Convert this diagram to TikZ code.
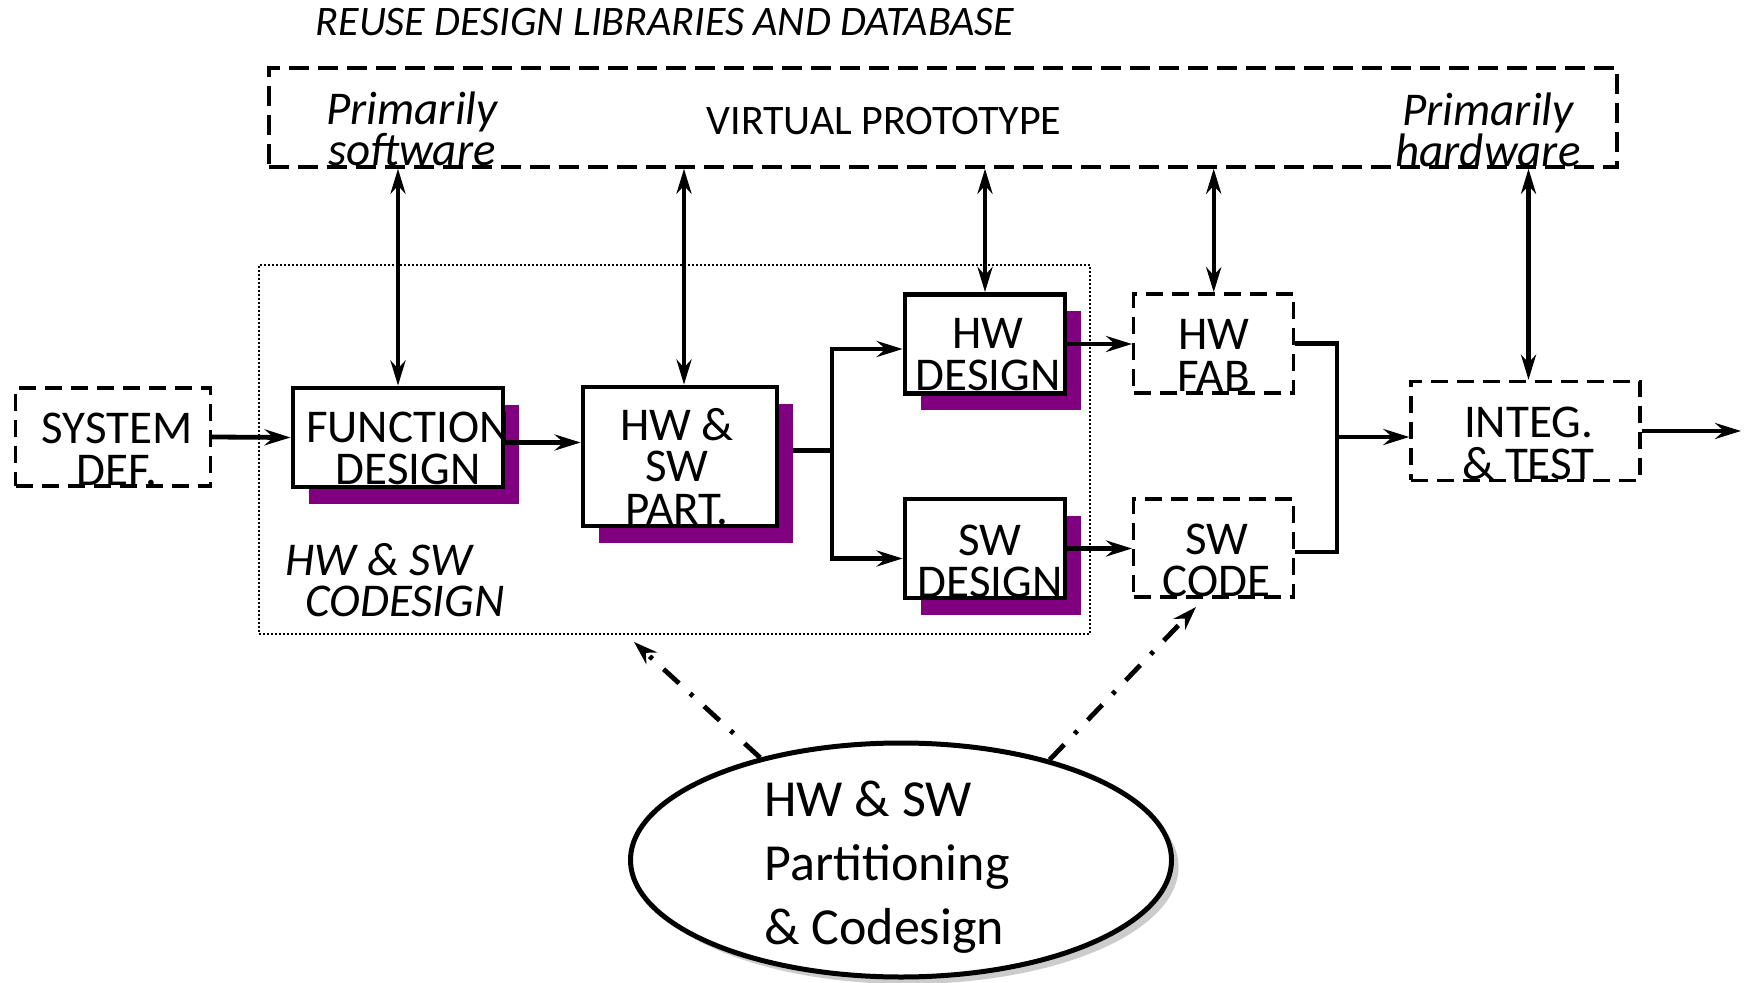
\documentclass[tikz,border=0pt]{standalone}
\usepackage{fontspec}
\setmainfont{Carlito}
\usetikzlibrary{arrows.meta,calc,shapes.geometric,backgrounds}
\definecolor{shadowpurple}{HTML}{800080}
\begin{document}
\begin{tikzpicture}[x=0.5pt,y=-0.5pt,
  stage/.style={draw, line width=2.4pt, fill=white, inner sep=0pt},
  extstage/.style={draw, line width=1.7pt, dash pattern=on 8.5pt off 4.5pt, fill=white, inner sep=0pt},
  shade/.style={fill=shadowpurple, draw=none, inner sep=0pt},
  lbl/.style={font=\fontsize{23.5}{21}\selectfont, align=center, inner sep=0pt, text depth=0pt, anchor=south},
  ital/.style={font=\fontsize{23.5}{20.5}\selectfont\itshape, align=center, inner sep=0pt, text depth=0pt, anchor=south},
  flow/.style={line width=2.4pt},
  arr/.style={flow, -{Stealth[length=13pt,width=8pt,inset=4.5pt]}},
  biarr/.style={line width=2.2pt, {Stealth[length=12.5pt,width=7.5pt,inset=4pt]}-{Stealth[length=12.5pt,width=7.5pt,inset=4pt]}},
  hint/.style={line width=2.4pt, dash pattern=on 10.5pt off 7.5pt on 2pt off 7.5pt, -{Stealth[length=12pt,width=8pt,inset=4pt]}}
]
\useasboundingbox (0,0) rectangle (1744,983);

% outer frames
\node[draw, line width=1.7pt, dash pattern=on 10pt off 4.5pt, inner sep=0pt,
      minimum width=674pt, minimum height=49.5pt] (vp) at (943,117.5) {};
\node[draw, line width=1.4pt, dash pattern=on 1pt off 1pt, inner sep=0pt,
      minimum width=415.5pt, minimum height=184.5pt] (cd) at (674.5,449.5) {};

% process boxes
\node[extstage, minimum width=97.5pt, minimum height=49pt]  (sd)  at (113,437) {};
\node[stage,    minimum width=105pt,  minimum height=49.5pt] (fd)  at (398,437.5) {};
\node[stage,    minimum width=97pt,   minimum height=69.5pt] (pt)  at (680,456.5) {};
\node[stage,    minimum width=80pt,   minimum height=49.5pt] (hd)  at (985,344) {};
\node[stage,    minimum width=80pt,   minimum height=49.5pt] (swd) at (985,548.5) {};
\node[extstage, minimum width=80pt,   minimum height=49.5pt] (hf)  at (1213.7,343.5) {};
\node[extstage, minimum width=80pt,   minimum height=49pt]   (sc)  at (1213.7,548) {};
\node[extstage, minimum width=114.5pt,minimum height=49.5pt] (it)  at (1525.5,431) {};

% partitioning ellipse
\node[ellipse, draw, line width=2.5pt, fill=white, inner sep=0pt,
      minimum width=270.5pt, minimum height=117pt] (pc) at (901,860) {};

% shadows
\begin{pgfonlayer}{background}
  \fill[white] (0,0) rectangle (1744,983);
  \node[shade, minimum width=105pt, minimum height=49.5pt] (fd-s)  at ($(fd.center)+(16,17)$) {};
  \node[shade, minimum width=97pt,  minimum height=69.5pt] (pt-s)  at ($(pt.center)+(16,17)$) {};
  \node[shade, minimum width=80pt,  minimum height=49.5pt] (hd-s)  at ($(hd.center)+(16,17)$) {};
  \node[shade, minimum width=80pt,  minimum height=49.5pt] (swd-s) at ($(swd.center)+(16,17)$) {};
  \node[ellipse, fill=black!20, inner sep=0pt,
        minimum width=270.5pt, minimum height=117pt] (pc-s) at ($(pc.center)+(7,7)$) {};
\end{pgfonlayer}

% box texts
\node[lbl] at ($(sd.south)+(4,-2)$)   {SYSTEM\\DEF.};
\node[lbl] at ($(fd.south)+(10,-4)$)  {FUNCTION\\DESIGN};
\node[lbl] at ($(pt.south)+(-3,-4)$)  {HW \&\\SW\\PART.};
\node[lbl] at ($(hd.south)+(3,-4.5)$) {HW\\DESIGN};
\node[lbl] at ($(swd.south)+(5,-3)$)  {SW\\DESIGN};
\node[lbl] at ($(hf.south)+(0,-3)$)   {HW\\FAB};
\node[lbl] at ($(sc.south)+(3,-2)$)   {SW\\CODE};
\node[lbl] at ($(it.south)+(3,-2.5)$) {INTEG.\\\& TEST};

% other labels
\node[font=\fontsize{21}{21}\selectfont\itshape, anchor=base, inner sep=0pt] (title) at (665,36)
  {REUSE DESIGN LIBRARIES AND DATABASE};
\node[font=\fontsize{21}{21}\selectfont, anchor=base, inner sep=0pt] (vplabel) at (884,135)
  {VIRTUAL PROTOTYPE};
\node[ital] (swlabel) at (412,166) {Primarily\\software};
\node[ital] (hwlabel) at (1488,167) {Primarily\\hardware};
\node[ital, align=left, anchor=south west] (cdlabel) at (285,617) {HW \& SW\\\hspace*{10pt}CODESIGN};
\node[font=\fontsize{26}{32}\selectfont, align=left, inner sep=0pt, text depth=0pt,
      anchor=south west] (pclabel) at ($(pc.center)+(-137,85)$) {HW \& SW\\Partitioning\\\& Codesign};

% main flow
\draw[arr] (sd.east) -- (fd.west);
\coordinate (fdout) at ($(fd.east)+(0,5)$);
\draw[arr] (fdout) -- (fdout -| pt.west);
\coordinate (split) at (832,450.5);
\coordinate (hdin) at ($(hd.west)+(0,5)$);
\coordinate (swdin) at ($(swd.west)+(0,10)$);
\draw[flow] (split -| pt-s.east) -- (split);
\draw[arr] (split) |- (hdin);
\draw[arr] (split) |- (swdin);
\draw[arr] (hd.east) -- (hd.east -| hf.west);
\draw[arr] (swd.east) -- (swd.east -| sc.west);
\coordinate (join) at (1337,437);
\coordinate (scout) at ($(sc.east)+(0,4)$);
\draw[flow] (hf.east) -- (hf.east -| join) -- (scout -| join) -- (scout);
\draw[arr] (join) -- (join -| it.west);
\coordinate (out) at (1741,431);
\draw[arr] (it.east) -- (out);

% links to the virtual prototype
\draw[biarr] (vp.south -| fd.north) -- (fd.north);
\draw[biarr] ($(vp.south -| pt.north)+(4,0)$) -- ($(pt.north)+(4,0)$);
\draw[biarr] (vp.south -| hd.north) -- (hd.north);
\draw[biarr] (vp.south -| hf.north) -- (hf.north);
\draw[biarr] ($(vp.south -| it.north)+(3,0)$) -- ($(it.north)+(3,0)$);

% partitioning hints
\coordinate (tipL) at (634,642);
\coordinate (tipR) at (1196,607);
\draw[hint] (pc.144) -- (tipL);
\draw[hint] (pc.34) -- (tipR);
\end{tikzpicture}
\end{document}
